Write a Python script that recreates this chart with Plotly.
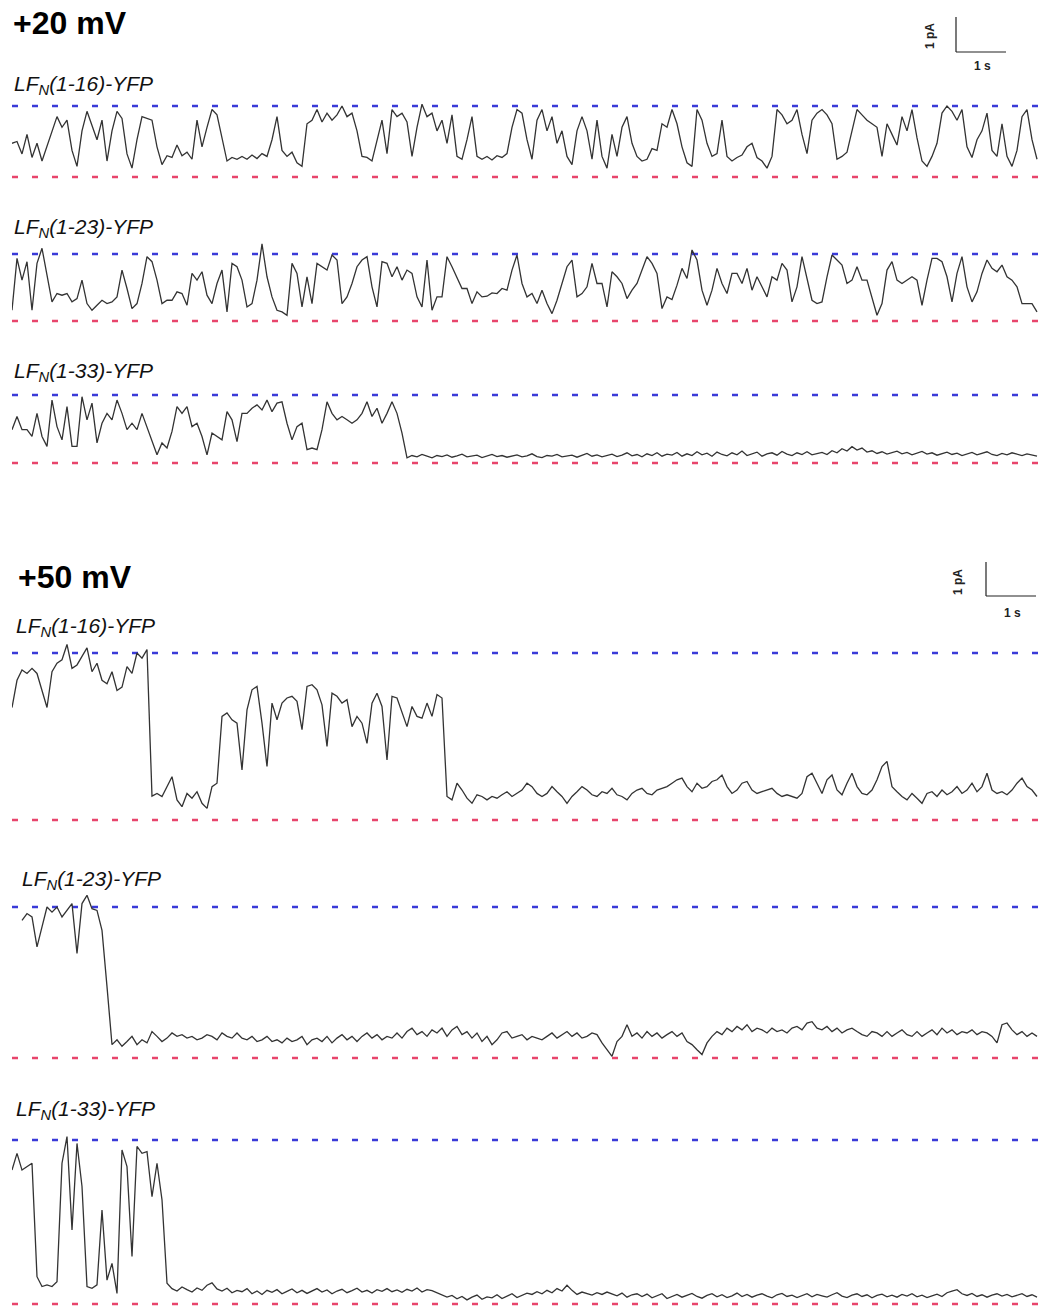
import plotly.graph_objects as go

# ---------------- data (current in pA, sampled every 0.1 s) ----------------
DT = 0.1

# +20 mV, LFN(1-16)-YFP
t20_16 = [
    0.95, 1.0, 0.65, 1.2, 0.55, 0.95, 0.45, 0.85, 1.3, 1.7,
    1.4, 1.6, 0.75, 0.3, 1.3, 1.85, 1.45, 1.05, 1.6, 0.45,
    1.3, 1.85, 1.65, 0.65, 0.25, 1.05, 1.7, 1.65, 1.6, 0.85,
    0.35, 0.6, 0.55, 0.9, 0.6, 0.7, 0.5, 1.6, 0.85, 1.4,
    1.9, 1.75, 1.05, 0.45, 0.55, 0.5, 0.58, 0.5, 0.62, 0.52,
    0.66, 0.58, 1.05, 1.7, 0.75, 0.58, 0.7, 0.4, 0.3, 1.5,
    1.6, 1.9, 1.55, 1.8, 1.6, 1.75, 2.0, 1.7, 1.8, 1.3,
    0.58, 0.55, 0.45, 1.05, 1.6, 0.66, 1.9, 1.7, 1.8, 1.55,
    0.58, 1.4, 2.05, 1.7, 1.8, 1.3, 1.6, 0.95, 1.75, 0.58,
    0.5, 1.05, 1.7, 0.58, 0.5, 0.58, 0.48, 0.6, 0.55, 0.66,
    1.4, 1.9,
    1.8, 1.05, 0.5, 1.6, 1.9, 1.3, 1.7, 0.95, 1.3, 0.58,
    0.35, 1.3, 1.7, 1.3, 0.5, 1.6, 0.58, 0.25, 1.2, 0.58,
    1.4, 1.7, 0.95, 0.58, 0.45, 0.5, 0.8, 0.75, 1.5, 1.4,
    1.9, 1.5, 0.85, 0.4, 0.3, 1.9, 1.6, 0.95, 0.58, 0.66,
    1.6, 0.58, 0.45, 0.55, 0.62, 0.85, 0.95, 0.55, 0.45, 0.25,
    0.58, 1.9, 1.75, 1.5, 1.6, 1.9, 1.2, 0.66, 1.6, 1.8,
    1.9, 1.75, 1.5, 0.5, 0.58, 0.7, 1.3, 1.9, 1.75, 1.6,
    1.5, 1.4, 0.58, 1.5, 1.2, 0.9, 1.7, 1.3, 1.9, 1.1,
    0.45, 0.3, 0.58, 0.95, 1.8, 2.0, 1.85, 1.6, 1.9, 0.85,
    0.55, 1.05, 1.3, 1.8, 0.75, 0.58, 1.5, 0.58, 0.3, 0.75,
    1.7, 1.9, 1.05, 0.5,
]

# +20 mV, LFN(1-23)-YFP
t20_23 = [
    0.32, 1.87, 1.22, 1.77, 0.32, 1.72, 2.17, 1.42, 0.57, 0.82,
    0.77, 0.82, 0.57, 0.67, 1.22, 0.52, 0.32, 0.47, 0.62, 0.52,
    0.57, 0.72, 1.52, 0.97, 0.37, 0.52, 1.12, 1.92, 1.77, 1.22,
    0.52, 0.62, 0.62, 0.87, 0.82, 0.47, 1.42, 1.22, 1.47, 0.77,
    0.52, 1.12, 1.52, 0.27, 1.72, 1.62, 1.22, 0.42, 0.52, 1.22,
    2.3, 1.32, 0.72, 0.32, 0.27, 0.17, 1.72, 1.42, 0.42, 1.32,
    0.52, 1.72, 1.62, 1.52, 1.97, 1.82, 0.52, 0.72, 1.12, 1.62,
    1.82, 1.92, 1.02, 0.42, 1.77, 1.72, 1.32, 1.62, 1.22, 1.52,
    1.42, 0.72, 0.42, 1.82, 0.32, 0.72, 0.72, 1.92, 1.62, 1.32,
    0.97, 0.97, 0.52, 0.87, 0.72, 0.74, 0.84, 0.82, 0.97, 0.92,
    1.52, 1.97,
    1.12, 0.72, 0.82, 0.52, 0.92, 0.52, 0.22, 0.62, 1.12, 1.62,
    1.82, 0.72, 0.82, 1.02, 1.72, 1.12, 1.12, 0.42, 1.47, 1.32,
    1.12, 0.67, 0.92, 1.12, 1.52, 1.92, 1.72, 1.42, 0.37, 0.72,
    0.64, 1.07, 1.57, 1.27, 2.12, 1.82, 0.92, 0.47, 0.92, 1.57,
    1.12, 0.82, 1.42, 1.42, 1.12, 1.57, 0.92, 1.32, 1.02, 0.72,
    1.32, 1.22, 1.72, 1.52, 0.57, 1.02, 1.92, 1.22, 0.62, 0.52,
    0.57, 1.32, 1.97, 1.82, 1.67, 1.12, 1.22, 1.62, 1.22, 1.22,
    0.72, 0.17, 0.52, 1.52, 1.77, 1.22, 1.12, 1.22, 1.32, 1.22,
    0.47, 1.22, 1.87, 1.87, 1.77, 1.32, 0.57, 1.42, 1.92, 1.02,
    0.57, 0.87, 1.42, 1.82, 1.57, 1.47, 1.67, 1.32, 1.22, 1.02,
    0.52, 0.52, 0.52, 0.27,
]

# +20 mV, LFN(1-33)-YFP
t20_33 = [
    0.98, 1.37, 0.98, 0.98, 0.78, 1.46, 0.78, 0.49, 1.85, 1.07,
    0.68, 1.66, 0.49, 0.49, 1.95, 1.27, 1.76, 0.59, 1.17, 1.46,
    1.27, 1.85, 1.46, 0.98, 1.17, 0.98, 1.46, 1.07, 0.68, 0.24,
    0.59, 0.44, 0.93, 1.66, 1.46, 1.66, 1.07, 1.17, 0.78, 0.24,
    0.88, 0.78, 0.68, 1.51, 1.27, 0.63, 1.46, 1.46, 1.61, 1.71,
    1.56, 1.85, 1.51, 1.76, 1.80, 1.17, 0.68, 1.07, 1.17, 0.39,
    0.44, 0.39, 0.98, 1.80, 1.46, 1.27, 1.37, 1.27, 1.17, 1.27,
    1.46, 1.80, 1.37, 1.61, 1.17, 1.46, 1.80, 1.46, 0.88, 0.15,
    0.22, 0.18, 0.25, 0.2, 0.15, 0.22, 0.19, 0.24, 0.17, 0.21,
    0.26, 0.18, 0.2, 0.23, 0.16, 0.21, 0.25, 0.19, 0.22, 0.17,
    0.2, 0.24, 0.18, 0.21, 0.27, 0.19, 0.16, 0.22, 0.2, 0.25,
    0.18, 0.21, 0.23, 0.17, 0.22, 0.28, 0.2, 0.24, 0.18, 0.22,
    0.26, 0.19, 0.23, 0.3, 0.21, 0.25, 0.18, 0.27, 0.22, 0.3,
    0.2, 0.26, 0.23, 0.31, 0.2, 0.27, 0.22, 0.33, 0.24, 0.29,
    0.2, 0.32, 0.25, 0.21, 0.3, 0.24, 0.35, 0.22, 0.28, 0.32,
    0.2, 0.27, 0.3, 0.23, 0.34, 0.26, 0.22, 0.3, 0.25, 0.33,
    0.24, 0.28, 0.31, 0.25, 0.36, 0.3, 0.42, 0.35, 0.48, 0.38,
    0.44, 0.32, 0.36, 0.28, 0.33, 0.26, 0.3, 0.35, 0.27, 0.31,
    0.24, 0.29, 0.34, 0.26, 0.3, 0.23, 0.28, 0.32, 0.25, 0.29,
    0.22, 0.27, 0.31, 0.24, 0.28, 0.33, 0.25, 0.22, 0.28, 0.24,
    0.3, 0.26, 0.22, 0.27, 0.24, 0.2,
]

# +50 mV, LFN(1-16)-YFP
t50_16 = [
    3.3, 4.1, 4.4, 4.3, 4.45, 4.3, 3.8, 3.3, 4.35, 4.6,
    4.7, 5.15, 4.45, 4.55, 4.8, 5.05, 4.35, 4.6, 4.1, 4.0,
    4.35, 3.8, 3.9, 4.5, 4.3, 4.9, 4.75, 5.0, 0.7, 0.78,
    0.69, 0.98, 1.27, 0.59, 0.39, 0.78, 0.64, 0.83, 0.49, 0.34,
    0.98, 1.08, 3.04, 3.14, 2.94, 2.84, 1.47, 3.23, 3.82, 3.92,
    2.84, 1.57, 3.43, 2.94, 3.43, 3.58, 3.63, 3.48, 2.65, 3.92,
    3.97, 3.82, 3.38, 2.16, 3.72, 3.63, 3.43, 3.53, 2.74, 3.04,
    2.84, 2.25, 3.43, 3.72, 3.33, 1.76, 3.63, 3.58, 3.14, 2.74,
    3.33, 3.04, 2.99, 3.43, 3.04, 3.68, 3.58, 0.69, 0.59, 1.08,
    0.88, 0.64, 0.49, 0.74, 0.69, 0.59, 0.69, 0.64, 0.74, 0.83,
    0.69, 0.78, 0.88, 1.08, 0.98, 0.78, 0.69, 0.78, 0.98, 0.83,
    0.69, 0.49, 0.69, 0.83, 0.98, 0.88, 0.74, 0.69, 0.83, 0.78,
    0.93, 0.74, 0.69, 0.59, 0.78, 0.88, 0.93, 0.78, 0.74, 0.88,
    0.93, 0.98, 1.08, 1.18, 1.23, 0.98, 0.83, 1.08, 0.93, 0.98,
    1.13, 1.18, 1.32, 0.98, 0.78, 0.88, 1.08, 1.13, 0.88, 0.78,
    0.83, 0.88, 0.93, 0.78, 0.69, 0.74, 0.69, 0.64, 0.78, 1.27,
    1.37, 1.08, 0.78, 1.18, 1.32, 0.88, 0.74, 1.08, 1.37, 0.98,
    0.78, 0.74, 0.88, 1.18, 1.57, 1.72, 0.98, 0.83, 0.69, 0.59,
    0.78, 0.64, 0.49, 0.78, 0.83, 0.69, 0.88, 0.74, 0.83, 0.98,
    0.78, 0.88, 1.08, 0.83, 0.98, 1.37, 0.88, 0.78, 0.83, 0.74,
    0.88, 1.08, 1.23, 0.98, 0.88, 0.69,
]

# +50 mV, LFN(1-23)-YFP
t50_23 = [
    None, None, 4.01, 4.21, 4.11, 3.24, 3.82, 4.40, 4.25, 4.40,
    4.11, 4.30, 4.50, 3.05, 4.50, 4.74, 4.35, 4.30, 3.72, 2.08,
    0.39, 0.53, 0.34, 0.48, 0.63, 0.39, 0.53, 0.44, 0.77, 0.63,
    0.48, 0.58, 0.73, 0.63, 0.68, 0.58, 0.63, 0.53, 0.58, 0.68,
    0.63, 0.53, 0.73, 0.63, 0.58, 0.73, 0.58, 0.53, 0.63, 0.48,
    0.53, 0.63, 0.48, 0.53, 0.44, 0.58, 0.48, 0.53, 0.63, 0.39,
    0.53, 0.58, 0.48, 0.63, 0.44, 0.58, 0.68, 0.53, 0.63, 0.48,
    0.63, 0.73, 0.58, 0.68, 0.53, 0.63, 0.58, 0.73, 0.58, 0.77,
    0.87, 0.68, 0.77, 0.63, 0.82, 0.73, 0.87, 0.63, 0.82, 0.92,
    0.68, 0.77, 0.58, 0.73, 0.48, 0.63, 0.39, 0.53, 0.73, 0.77,
    0.58, 0.63, 0.68, 0.53, 0.63, 0.58, 0.53, 0.63, 0.73, 0.58,
    0.68, 0.77, 0.63, 0.73, 0.58, 0.63, 0.73, 0.68, 0.44, 0.24,
    0.05, 0.48, 0.63, 0.97, 0.63, 0.73, 0.58, 0.77, 0.63, 0.73,
    0.58, 0.68, 0.77, 0.63, 0.73, 0.48, 0.39, 0.24, 0.10, 0.44,
    0.63, 0.77, 0.68, 0.87, 0.77, 0.92, 0.82, 0.97, 0.77, 0.87,
    0.82, 0.73, 0.87, 0.77, 0.82, 0.73, 0.87, 0.92, 0.82, 1.02,
    1.06, 0.87, 0.82, 0.92, 0.77, 0.87, 0.73, 0.82, 0.87, 0.77,
    0.68, 0.63, 0.77, 0.73, 0.63, 0.77, 0.63, 0.73, 0.82, 0.68,
    0.63, 0.77, 0.63, 0.73, 0.82, 0.68, 0.87, 0.73, 0.82, 0.68,
    0.77, 0.73, 0.82, 0.68, 0.77, 0.73, 0.63, 0.44, 0.97, 1.02,
    0.82, 0.68, 0.77, 0.63, 0.73, 0.63,
]

# +50 mV, LFN(1-33)-YFP
t50_33 = [
    3.92, 4.41, 3.92, 4.02, 4.12, 0.80, 0.51, 0.56, 0.51, 0.65,
    4.12, 4.90, 2.17, 4.70, 3.44, 0.51, 0.46, 0.56, 2.75, 0.70,
    1.19, 0.31, 4.51, 4.02, 1.39, 4.61, 4.41, 4.46, 3.14, 4.12,
    3.05, 0.61,
    0.45, 0.38, 0.5, 0.42, 0.35, 0.47, 0.4, 0.55, 0.62, 0.44,
    0.38, 0.46, 0.33, 0.4, 0.36, 0.45, 0.3, 0.38, 0.28, 0.4,
    0.34, 0.42, 0.3, 0.37, 0.44, 0.33,
    0.4, 0.31, 0.38, 0.45, 0.35, 0.41, 0.3, 0.38, 0.43, 0.33,
    0.39, 0.46, 0.35, 0.4, 0.32, 0.42, 0.37, 0.45, 0.36, 0.41,
    0.34, 0.43, 0.38, 0.47, 0.35, 0.42, 0.39, 0.33,
    0.28, 0.2, 0.25, 0.15, 0.22, 0.12, 0.2, 0.26, 0.14, 0.21,
    0.18, 0.27, 0.16, 0.22, 0.3, 0.19, 0.25, 0.32,
    0.28, 0.36, 0.3, 0.4, 0.33, 0.45, 0.38, 0.55, 0.4, 0.28,
    0.35, 0.3, 0.26, 0.33,
    0.28, 0.35, 0.3, 0.24, 0.32, 0.2, 0.27, 0.3, 0.22, 0.29,
    0.18, 0.25, 0.3, 0.16, 0.23, 0.28, 0.2, 0.26, 0.31, 0.22,
    0.17, 0.25, 0.3, 0.21, 0.27, 0.19, 0.24, 0.32, 0.22, 0.28,
    0.2, 0.26, 0.3, 0.23, 0.18, 0.27, 0.31, 0.22, 0.26, 0.19,
    0.25, 0.3, 0.21, 0.28, 0.24, 0.2, 0.27, 0.33, 0.23, 0.19,
    0.26, 0.3, 0.22, 0.27, 0.18, 0.25, 0.29, 0.21, 0.26, 0.2,
    0.28, 0.23, 0.3, 0.21, 0.26, 0.19, 0.24, 0.29, 0.22, 0.33,
    0.38, 0.42, 0.3, 0.25, 0.31, 0.22, 0.27, 0.2, 0.26, 0.3,
    0.23, 0.28, 0.21, 0.26, 0.3, 0.22, 0.27, 0.2,
]

open_levels = [2.0, 2.0, 2.0, 4.9, 4.4, 4.8]          # pA, blue dashed line
labels = ["LF<sub>N</sub>(1-16)-YFP", "LF<sub>N</sub>(1-23)-YFP", "LF<sub>N</sub>(1-33)-YFP",
          "LF<sub>N</sub>(1-16)-YFP", "LF<sub>N</sub>(1-23)-YFP", "LF<sub>N</sub>(1-33)-YFP"]
titles = ["+20 mV", "+50 mV"]
scale_labels = ["1 pA", "1 s"]

# ---------------- layout helpers (pixel geometry) ----------------
W, H = 1042, 1310
X0_PX, X1_PX = 12, 1040
PX_PER_S = 50.0
T_END = (X1_PX - X0_PX) / PX_PER_S


def fx(p):
    return p / W


def fy(p):
    return 1 - p / H


# open-level / closed-level pixel rows, label anchor
geom = [
    dict(open_px=106, closed_px=177, lab=(12, 85)),
    dict(open_px=254, closed_px=321, lab=(12, 228)),
    dict(open_px=395, closed_px=463, lab=(12, 372)),
    dict(open_px=653, closed_px=820, lab=(14, 627)),
    dict(open_px=907, closed_px=1058, lab=(20, 880)),
    dict(open_px=1140, closed_px=1304, lab=(14, 1110)),
]

series = [t20_16, t20_23, t20_33, t50_16, t50_23, t50_33]

BLUE = "#3a3ad8"
RED = "#e8456c"
TRACE = "#333333"

fig = go.Figure()
layout_axes = {}
annotations = []

for k, (vals, g, op, lab) in enumerate(zip(series, geom, open_levels, labels), start=1):
    xa = "x" if k == 1 else f"x{k}"
    ya = "y" if k == 1 else f"y{k}"
    t = [i * DT for i in range(len(vals))]
    fig.add_trace(go.Scatter(x=[0, T_END], y=[op, op], mode="lines",
                             line=dict(color=BLUE, width=2.5, dash="6px,14px"),
                             xaxis=xa, yaxis=ya, hoverinfo="skip", showlegend=False))
    fig.add_trace(go.Scatter(x=[0, T_END], y=[0, 0], mode="lines",
                             line=dict(color=RED, width=2.5, dash="6px,14px"),
                             xaxis=xa, yaxis=ya, hoverinfo="skip", showlegend=False))
    fig.add_trace(go.Scatter(x=t, y=vals, mode="lines",
                             line=dict(color=TRACE, width=1.3),
                             connectgaps=False, xaxis=xa, yaxis=ya,
                             hoverinfo="skip", showlegend=False))
    s = (g["closed_px"] - g["open_px"]) / op
    top = g["open_px"] - 22
    bot = min(g["closed_px"] + 6, H)
    lo = -(bot - g["closed_px"]) / s
    hi = op + (g["open_px"] - top) / s
    xkey = "xaxis" if k == 1 else f"xaxis{k}"
    ykey = "yaxis" if k == 1 else f"yaxis{k}"
    layout_axes[xkey] = dict(domain=[fx(X0_PX), fx(X1_PX)], range=[0, T_END],
                             visible=False, anchor=ya, fixedrange=True)
    layout_axes[ykey] = dict(domain=[fy(bot), fy(top)], range=[lo, hi],
                             visible=False, anchor=xa, fixedrange=True)
    annotations.append(dict(x=fx(g["lab"][0]), y=fy(g["lab"][1]), xref="paper", yref="paper",
                            text=f"<i>{lab}</i>", showarrow=False, xanchor="left",
                            yanchor="middle",
                            font=dict(family="Liberation Sans, Arial", size=21, color="#111")))

# panel titles
for txt, (px, py) in zip(titles, [(11, 23), (16, 577)]):
    annotations.append(dict(x=fx(px), y=fy(py), xref="paper", yref="paper",
                            text=f"<b>{txt}</b>", showarrow=False, xanchor="left",
                            yanchor="middle",
                            font=dict(family="Liberation Sans, Arial", size=32, color="#000")))

# scale bars (1 pA vertical, 1 s horizontal)
shapes = []
for (bx, by_top, by_bot, plab, slab) in [(956, 17, 52, (930, 36), (982, 66)),
                                         (986, 562, 596, (958, 582), (1012, 613))]:
    shapes.append(dict(type="line", xref="paper", yref="paper",
                       x0=fx(bx), x1=fx(bx), y0=fy(by_top), y1=fy(by_bot),
                       line=dict(color="#222", width=1.2)))
    shapes.append(dict(type="line", xref="paper", yref="paper",
                       x0=fx(bx), x1=fx(bx + 50), y0=fy(by_bot), y1=fy(by_bot),
                       line=dict(color="#222", width=1.2)))
    annotations.append(dict(x=fx(plab[0]), y=fy(plab[1]), xref="paper", yref="paper",
                            text=f"<b>{scale_labels[0]}</b>", textangle=-90, showarrow=False,
                            xanchor="center", yanchor="middle",
                            font=dict(family="Liberation Sans, Arial", size=12, color="#222")))
    annotations.append(dict(x=fx(slab[0]), y=fy(slab[1]), xref="paper", yref="paper",
                            text=f"<b>{scale_labels[1]}</b>", showarrow=False,
                            xanchor="center", yanchor="middle",
                            font=dict(family="Liberation Sans, Arial", size=12, color="#222")))

fig.update_layout(width=W, height=H, margin=dict(l=0, r=0, t=0, b=0),
                  paper_bgcolor="white", plot_bgcolor="white",
                  showlegend=False, annotations=annotations, shapes=shapes,
                  **layout_axes)

fig.write_html("out.html", config={"displayModeBar": False})
